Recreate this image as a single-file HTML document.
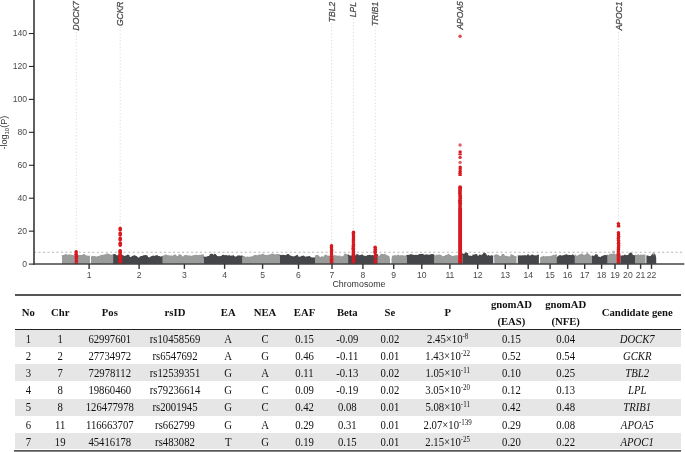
<!DOCTYPE html><html><head><meta charset="utf-8"><style>
html,body{margin:0;padding:0;background:#fff;}
body{width:685px;height:452px;position:relative;overflow:hidden;}
.t{position:absolute;font-family:"Liberation Serif",serif;font-size:10.7px;color:#111;white-space:nowrap;transform:translateX(-50%);line-height:1;}
.h{font-weight:bold;}
.b{transform:translateX(-50%) scaleY(1.1);transform-origin:50% 85%;}
.i{font-style:italic;}
.r{position:absolute;left:15px;width:666px;background:#e6e6e6;}
.ln{position:absolute;left:15px;width:666px;}
sup{font-size:7px;vertical-align:0;position:relative;top:-4px;line-height:0;}
</style></head><body>
<div style="position:absolute;left:0;top:0;width:685px;height:452px;will-change:transform">
<svg width="685" height="292" viewBox="0 0 685 292" style="position:absolute;left:0;top:0">
<g fill="#9a9c9c"><polygon points="62.00,264.10 62.00,257.34 62.51,255.13 63.02,255.42 63.52,255.20 64.03,255.17 64.54,254.61 65.05,254.29 65.56,254.20 66.07,254.34 66.57,254.72 67.08,255.13 67.59,255.09 68.10,255.17 68.61,254.81 69.11,254.62 69.62,254.52 70.13,254.66 70.64,254.56 71.15,254.61 71.66,254.86 72.16,254.89 72.67,254.92 73.18,255.27 73.69,255.33 74.20,255.14 74.70,255.22 75.21,255.13 75.72,255.23 76.23,255.10 76.74,254.81 77.25,255.08 77.75,254.58 78.26,254.78 78.77,255.11 79.28,254.99 79.79,255.27 80.29,255.07 80.80,255.34 81.31,255.29 81.82,255.05 82.33,255.05 82.84,254.61 83.34,254.66 83.85,254.52 84.36,254.47 84.87,254.47 85.38,254.90 85.88,255.28 86.39,255.37 86.90,255.69 87.41,255.45 87.92,255.75 88.43,255.70 88.93,255.84 89.44,255.73 89.95,255.44 89.95,264.10"/><circle cx="62.6" cy="256.0" r="0.90"/><circle cx="63.8" cy="256.0" r="0.90"/><circle cx="65.7" cy="255.0" r="0.90"/><circle cx="67.0" cy="255.5" r="0.90"/><circle cx="68.6" cy="255.4" r="0.90"/><circle cx="74.7" cy="255.9" r="0.90"/><circle cx="79.1" cy="255.7" r="0.90"/><circle cx="80.8" cy="255.9" r="0.90"/><circle cx="82.0" cy="255.7" r="0.90"/><circle cx="83.9" cy="254.8" r="0.90"/></g>
<g fill="#9a9c9c"><polygon points="91.00,264.10 91.00,257.32 91.50,255.87 92.00,255.71 92.51,256.32 93.01,256.36 93.51,256.22 94.01,256.29 94.52,256.35 95.02,256.37 95.52,256.25 96.02,256.62 96.53,256.70 97.03,256.45 97.53,256.47 98.03,256.27 98.53,256.19 99.04,256.14 99.54,255.90 100.04,255.95 100.54,255.37 101.05,255.10 101.55,255.45 102.05,255.18 102.55,254.87 103.05,254.89 103.56,254.42 104.06,254.47 104.56,254.55 105.06,254.41 105.57,254.29 106.07,254.03 106.57,254.08 107.07,253.97 107.57,254.27 108.08,254.15 108.58,254.28 109.08,254.07 109.58,254.10 110.09,254.51 110.59,254.72 111.09,254.75 111.59,254.76 112.10,254.82 112.60,254.87 113.10,254.72 113.10,264.10"/><circle cx="92.7" cy="257.2" r="0.90"/><circle cx="94.4" cy="256.8" r="0.90"/><circle cx="97.8" cy="256.8" r="0.90"/><circle cx="100.4" cy="256.1" r="0.90"/><circle cx="101.9" cy="255.7" r="0.90"/><circle cx="106.7" cy="254.5" r="0.90"/><circle cx="108.2" cy="254.5" r="0.90"/><circle cx="112.4" cy="255.3" r="0.90"/></g>
<g fill="#444649"><polygon points="113.10,264.10 113.10,254.03 113.60,254.19 114.10,254.11 114.61,254.36 115.11,254.43 115.61,255.04 116.11,254.94 116.61,255.09 117.12,255.19 117.62,255.41 118.12,255.07 118.62,255.11 119.12,254.66 119.63,254.48 120.13,254.39 120.63,254.20 121.13,254.57 121.63,254.64 122.14,254.77 122.64,255.37 123.14,255.26 123.64,255.59 124.14,255.87 124.65,255.89 125.15,255.80 125.65,255.73 126.15,255.41 126.65,255.16 127.16,254.54 127.66,254.67 128.16,254.69 128.66,255.14 129.16,255.99 129.67,256.45 130.17,256.88 130.67,257.11 131.17,257.13 131.67,256.71 132.18,256.52 132.68,256.15 133.18,255.84 133.68,255.69 134.18,255.43 134.69,255.46 135.19,255.56 135.69,256.01 136.19,256.21 136.69,256.69 137.20,257.11 137.70,257.10 138.20,257.49 138.70,257.77 139.21,257.66 139.71,257.12 140.21,256.83 140.71,256.64 141.21,256.12 141.72,255.91 142.22,255.65 142.72,255.89 143.22,255.89 143.72,255.85 144.23,255.35 144.73,255.50 145.23,255.35 145.73,255.00 146.23,255.33 146.74,255.59 147.24,255.75 147.74,256.78 148.24,257.02 148.74,257.25 149.25,257.44 149.75,257.21 150.25,256.65 150.75,256.55 151.25,256.35 151.76,256.08 152.26,255.90 152.76,255.93 153.26,256.11 153.76,255.73 154.27,255.95 154.77,255.84 155.27,255.58 155.77,255.69 156.27,255.80 156.78,255.73 157.28,255.52 157.78,256.05 158.28,256.09 158.78,256.35 159.29,256.09 159.79,256.34 160.29,256.36 160.79,256.80 161.29,256.55 161.80,256.30 162.30,256.11 162.80,255.95 162.80,264.10"/><circle cx="114.9" cy="254.8" r="0.90"/><circle cx="119.4" cy="255.0" r="0.90"/><circle cx="120.9" cy="254.9" r="0.90"/><circle cx="125.9" cy="256.6" r="0.90"/><circle cx="128.6" cy="255.7" r="0.90"/><circle cx="131.5" cy="257.3" r="0.90"/><circle cx="132.9" cy="256.6" r="0.90"/><circle cx="134.5" cy="256.2" r="0.90"/><circle cx="136.3" cy="256.9" r="0.90"/><circle cx="139.1" cy="258.5" r="0.90"/><circle cx="140.4" cy="257.1" r="0.90"/><circle cx="143.7" cy="256.2" r="0.90"/><circle cx="145.4" cy="256.0" r="0.90"/><circle cx="146.9" cy="256.3" r="0.90"/><circle cx="153.0" cy="256.4" r="0.90"/><circle cx="155.7" cy="256.6" r="0.90"/><circle cx="157.0" cy="256.0" r="0.90"/><circle cx="158.6" cy="257.2" r="0.90"/></g>
<g fill="#9a9c9c"><polygon points="162.80,264.10 162.80,255.46 163.30,255.53 163.80,255.33 164.30,255.13 164.80,254.98 165.31,254.57 165.81,254.49 166.31,254.89 166.81,254.61 167.31,255.07 167.81,255.21 168.31,255.07 168.81,255.56 169.32,255.63 169.82,255.54 170.32,255.60 170.82,255.63 171.32,255.29 171.82,255.48 172.32,255.58 172.82,256.01 173.33,255.76 173.83,255.12 174.33,254.70 174.83,254.51 175.33,254.55 175.83,254.81 176.33,255.30 176.83,256.01 177.34,255.99 177.84,255.94 178.34,255.67 178.84,255.11 179.34,254.70 179.84,254.51 180.34,254.55 180.84,254.82 181.35,255.31 181.85,256.03 182.35,257.02 182.85,256.85 183.35,256.42 183.85,256.05 184.35,255.74 184.85,255.18 185.35,255.42 185.86,255.19 186.36,255.12 186.86,255.24 187.36,255.49 187.86,255.23 188.36,255.52 188.86,255.69 189.36,255.51 189.87,255.53 190.37,255.64 190.87,255.77 191.37,255.82 191.87,255.74 192.37,255.75 192.87,255.46 193.37,255.49 193.88,255.53 194.38,255.76 194.88,255.37 195.38,254.97 195.88,254.81 196.38,254.80 196.88,254.88 197.38,255.12 197.89,255.21 198.39,255.30 198.89,255.18 199.39,255.31 199.89,255.19 200.39,254.95 200.89,254.47 201.39,254.61 201.90,254.14 202.40,254.54 202.90,254.60 203.40,254.26 203.90,254.61 203.90,264.10"/><circle cx="166.2" cy="255.7" r="0.90"/><circle cx="169.4" cy="256.4" r="0.90"/><circle cx="174.0" cy="255.7" r="0.90"/><circle cx="178.6" cy="256.3" r="0.90"/><circle cx="179.5" cy="255.1" r="0.90"/><circle cx="181.2" cy="256.1" r="0.90"/><circle cx="182.7" cy="257.2" r="0.90"/><circle cx="184.5" cy="256.1" r="0.90"/><circle cx="186.1" cy="255.7" r="0.90"/><circle cx="188.8" cy="256.4" r="0.90"/><circle cx="193.3" cy="256.2" r="0.90"/><circle cx="194.6" cy="255.8" r="0.90"/><circle cx="196.6" cy="255.6" r="0.90"/><circle cx="197.9" cy="256.0" r="0.90"/><circle cx="199.7" cy="255.7" r="0.90"/></g>
<g fill="#444649"><polygon points="203.90,264.10 203.90,256.91 204.40,256.90 204.91,257.17 205.41,256.83 205.91,256.54 206.41,256.71 206.92,256.61 207.42,256.22 207.92,255.99 208.42,256.00 208.93,255.88 209.43,255.84 209.93,255.01 210.43,254.32 210.94,253.86 211.44,253.63 211.94,253.63 212.44,253.85 212.95,254.30 213.45,254.98 213.95,254.49 214.45,254.13 214.96,254.00 215.46,254.10 215.96,254.42 216.46,254.97 216.97,255.74 217.47,256.10 217.97,256.26 218.48,256.47 218.98,256.24 219.48,256.34 219.98,256.37 220.49,256.42 220.99,256.24 221.49,256.02 221.99,255.46 222.50,255.11 223.00,254.76 223.50,254.75 224.00,255.10 224.51,255.22 225.01,255.05 225.51,255.15 226.01,254.89 226.52,255.12 227.02,255.41 227.52,255.38 228.02,255.42 228.53,255.55 229.03,255.30 229.53,255.37 230.04,255.51 230.54,255.78 231.04,255.90 231.54,256.09 232.05,255.91 232.55,255.59 233.05,255.50 233.55,255.64 234.06,256.00 234.56,256.59 235.06,256.88 235.56,256.45 236.07,256.60 236.57,256.24 237.07,255.87 237.57,255.61 238.08,255.56 238.58,255.71 239.08,255.75 239.58,255.48 240.09,255.48 240.59,255.73 241.09,255.78 241.59,255.71 242.10,255.64 242.60,255.83 242.60,264.10"/><circle cx="204.3" cy="257.5" r="0.90"/><circle cx="210.3" cy="255.1" r="0.90"/><circle cx="214.7" cy="254.6" r="0.90"/><circle cx="217.8" cy="256.8" r="0.90"/><circle cx="220.7" cy="256.9" r="0.90"/><circle cx="222.6" cy="255.9" r="0.90"/><circle cx="228.8" cy="256.3" r="0.90"/><circle cx="231.4" cy="256.5" r="0.90"/><circle cx="233.3" cy="256.1" r="0.90"/><circle cx="234.4" cy="257.2" r="0.90"/><circle cx="239.0" cy="256.5" r="0.90"/><circle cx="241.8" cy="256.5" r="0.90"/></g>
<g fill="#9a9c9c"><polygon points="242.60,264.10 242.60,256.08 243.11,256.10 243.61,255.99 244.12,255.95 244.62,256.35 245.13,256.49 245.63,256.94 246.14,256.70 246.64,256.83 247.15,257.07 247.65,256.63 248.16,256.82 248.66,257.04 249.17,257.04 249.68,256.69 250.18,256.69 250.69,256.69 251.19,257.06 251.70,256.56 252.20,256.55 252.71,256.30 253.21,255.67 253.72,255.30 254.22,255.36 254.73,254.99 255.24,254.74 255.74,255.08 256.25,255.20 256.75,255.60 257.26,255.87 257.76,255.19 258.27,254.74 258.77,254.52 259.28,254.53 259.78,254.78 260.29,254.92 260.79,254.61 261.30,254.51 261.81,254.31 262.31,254.00 262.82,254.01 263.32,254.23 263.83,254.43 264.33,254.83 264.84,254.62 265.34,255.05 265.85,255.06 266.35,255.09 266.86,255.05 267.36,254.94 267.87,254.77 268.38,254.74 268.88,254.74 269.39,254.93 269.89,254.46 270.40,254.31 270.90,254.35 271.41,253.90 271.91,253.72 272.42,253.74 272.92,254.15 273.43,254.25 273.94,254.81 274.44,254.94 274.95,254.80 275.45,254.44 275.96,254.30 276.46,254.40 276.97,254.59 277.47,254.59 277.98,254.36 278.48,254.17 278.99,254.20 279.49,254.28 280.00,254.32 280.00,264.10"/><circle cx="247.9" cy="257.3" r="0.90"/><circle cx="250.8" cy="257.5" r="0.90"/><circle cx="252.0" cy="257.4" r="0.90"/><circle cx="256.7" cy="255.9" r="0.90"/><circle cx="260.0" cy="255.3" r="0.90"/><circle cx="262.8" cy="254.4" r="0.90"/><circle cx="267.2" cy="255.8" r="0.90"/><circle cx="269.2" cy="255.3" r="0.90"/><circle cx="272.1" cy="254.4" r="0.90"/><circle cx="273.6" cy="254.6" r="0.90"/><circle cx="275.0" cy="255.3" r="0.90"/><circle cx="276.4" cy="255.2" r="0.90"/><circle cx="277.8" cy="254.9" r="0.90"/></g>
<g fill="#444649"><polygon points="280.00,264.10 280.00,255.28 280.50,255.01 281.00,255.02 281.50,255.41 282.00,255.25 282.50,255.20 283.00,255.45 283.50,255.11 284.00,255.00 284.50,255.11 285.00,255.45 285.50,255.22 286.00,255.06 286.50,255.00 287.00,254.45 287.50,254.11 288.00,254.00 288.50,254.11 289.00,254.45 289.50,255.01 290.00,255.46 290.50,255.39 291.00,255.62 291.50,255.93 292.00,256.32 292.50,256.08 293.00,256.39 293.50,256.61 294.00,256.65 294.50,256.04 295.00,255.69 295.50,255.81 296.00,255.66 296.50,255.43 297.00,255.37 297.50,256.06 298.00,256.08 298.50,256.62 299.00,256.68 299.50,256.87 300.00,256.51 300.50,256.69 301.00,256.21 301.50,256.07 302.00,256.06 302.50,255.88 303.00,255.46 303.50,255.49 304.00,255.80 304.50,256.25 305.00,256.62 305.50,256.85 306.00,257.10 306.50,257.32 307.00,257.27 307.50,256.63 308.00,256.65 308.50,256.53 309.00,256.03 309.50,256.40 310.00,256.18 310.50,256.75 311.00,257.16 311.50,257.63 312.00,257.79 312.50,257.99 313.00,258.03 313.50,257.80 314.00,257.69 314.50,257.35 315.00,257.15 315.00,264.10"/><circle cx="280.6" cy="255.6" r="0.90"/><circle cx="282.2" cy="255.7" r="0.90"/><circle cx="283.3" cy="255.7" r="0.90"/><circle cx="284.8" cy="256.1" r="0.90"/><circle cx="286.5" cy="255.6" r="0.90"/><circle cx="288.1" cy="254.9" r="0.90"/><circle cx="294.0" cy="257.3" r="0.90"/><circle cx="297.2" cy="255.7" r="0.90"/><circle cx="301.8" cy="256.7" r="0.90"/><circle cx="306.2" cy="257.4" r="0.90"/><circle cx="307.4" cy="257.1" r="0.90"/><circle cx="309.2" cy="256.8" r="0.90"/><circle cx="312.0" cy="258.1" r="0.90"/><circle cx="313.4" cy="258.4" r="0.90"/></g>
<g fill="#9a9c9c"><polygon points="315.00,264.10 315.00,255.37 315.50,255.22 316.00,255.34 316.50,255.06 317.01,254.84 317.51,255.07 318.01,254.83 318.51,255.59 319.01,255.82 319.51,256.53 320.02,257.05 320.52,256.93 321.02,256.96 321.52,256.76 322.02,256.58 322.52,256.57 323.02,256.61 323.53,256.82 324.03,256.55 324.53,255.77 325.03,255.22 325.53,254.90 326.03,254.80 326.53,254.93 327.04,255.28 327.54,255.86 328.04,256.17 328.54,255.86 329.04,255.81 329.54,255.63 330.05,255.78 330.55,255.74 331.05,255.48 331.55,255.60 332.05,255.43 332.55,255.17 333.05,255.51 333.56,255.14 334.06,255.10 334.56,255.12 335.06,255.46 335.56,255.66 336.06,255.70 336.57,255.59 337.07,255.58 337.57,255.49 338.07,255.81 338.57,255.84 339.07,255.87 339.57,256.18 340.08,256.26 340.58,256.65 341.08,256.65 341.58,256.43 342.08,256.78 342.58,256.41 343.08,256.74 343.59,255.15 344.09,254.40 344.59,253.87 345.09,253.58 345.59,253.50 346.09,253.66 346.60,254.04 347.10,254.65 347.60,255.12 348.10,255.28 348.10,264.10"/><circle cx="319.9" cy="257.8" r="0.90"/><circle cx="321.8" cy="257.2" r="0.90"/><circle cx="324.7" cy="256.2" r="0.90"/><circle cx="326.2" cy="255.4" r="0.90"/><circle cx="327.3" cy="256.6" r="0.90"/><circle cx="328.9" cy="256.3" r="0.90"/><circle cx="335.1" cy="256.1" r="0.90"/><circle cx="339.7" cy="256.5" r="0.90"/><circle cx="341.3" cy="257.5" r="0.90"/><circle cx="342.4" cy="256.9" r="0.90"/><circle cx="347.3" cy="255.4" r="0.90"/></g>
<g fill="#444649"><polygon points="348.10,264.10 348.10,254.94 348.60,254.91 349.11,255.04 349.61,255.59 350.11,255.47 350.62,255.54 351.12,255.64 351.62,255.77 352.13,256.16 352.63,256.13 353.13,256.16 353.64,256.19 354.14,255.86 354.64,256.13 355.15,255.84 355.65,255.12 356.15,254.62 356.66,254.35 357.16,254.31 357.66,254.50 358.17,254.91 358.67,255.56 359.17,255.48 359.68,255.45 360.18,255.34 360.68,255.18 361.19,254.70 361.69,254.44 362.19,254.42 362.70,254.62 363.20,255.05 363.71,255.71 364.21,255.80 364.71,255.83 365.22,256.15 365.72,255.81 366.22,255.77 366.73,255.70 367.23,255.37 367.73,255.36 368.24,255.26 368.74,255.41 369.24,255.06 369.75,254.83 370.25,254.83 370.75,255.05 371.26,255.51 371.76,255.55 372.26,255.30 372.77,255.52 373.27,255.52 373.77,255.58 374.28,255.17 374.78,255.11 375.28,254.80 375.79,254.49 376.29,254.76 376.79,254.34 377.30,254.65 377.80,254.25 377.80,264.10"/><circle cx="348.4" cy="255.4" r="0.90"/><circle cx="351.6" cy="256.4" r="0.90"/><circle cx="354.6" cy="256.8" r="0.90"/><circle cx="357.9" cy="255.2" r="0.90"/><circle cx="359.3" cy="256.1" r="0.90"/><circle cx="360.8" cy="256.0" r="0.90"/><circle cx="368.2" cy="255.9" r="0.90"/><circle cx="371.5" cy="256.4" r="0.90"/><circle cx="372.6" cy="255.9" r="0.90"/><circle cx="376.0" cy="255.2" r="0.90"/><circle cx="377.3" cy="255.1" r="0.90"/></g>
<g fill="#9a9c9c"><polygon points="377.80,264.10 377.80,256.09 378.31,255.95 378.82,255.59 379.32,255.57 379.83,255.56 380.34,255.02 380.85,254.60 381.36,254.19 381.87,254.01 382.38,254.06 382.88,254.35 383.39,254.41 383.90,254.34 384.41,254.31 384.92,254.40 385.43,254.29 385.93,254.53 386.44,254.68 386.95,255.32 387.46,255.44 387.97,255.32 388.48,255.88 388.98,255.73 389.49,256.51 390.00,259.23 390.00,264.10"/><circle cx="381.2" cy="254.7" r="0.90"/><circle cx="382.7" cy="255.0" r="0.90"/><circle cx="384.3" cy="254.7" r="0.90"/></g>
<g fill="#9a9c9c"><polygon points="391.50,264.10 391.50,258.87 392.01,256.26 392.53,255.60 393.04,255.54 393.55,255.55 394.07,255.58 394.58,255.50 395.09,255.47 395.61,255.70 396.12,255.51 396.63,255.44 397.15,254.93 397.66,254.65 398.17,254.61 398.69,254.81 399.20,255.25 399.71,255.44 400.23,255.37 400.74,255.13 401.25,255.17 401.77,255.25 402.28,254.90 402.79,255.22 403.31,255.44 403.82,255.42 404.33,255.64 404.85,256.02 405.36,255.62 405.87,255.84 406.39,255.48 406.90,255.52 406.90,264.10"/><circle cx="395.1" cy="256.0" r="0.90"/><circle cx="404.6" cy="256.4" r="0.90"/></g>
<g fill="#444649"><polygon points="406.90,264.10 406.90,255.08 407.40,255.34 407.91,255.05 408.41,254.83 408.91,254.65 409.42,254.83 409.92,254.72 410.43,254.55 410.93,254.43 411.43,254.49 411.94,254.36 412.44,254.81 412.94,254.59 413.45,254.83 413.95,255.01 414.45,255.08 414.96,254.95 415.46,254.87 415.97,254.96 416.47,254.69 416.97,254.97 417.48,254.67 417.98,254.89 418.48,254.55 418.99,254.50 419.49,254.28 419.99,254.19 420.50,253.93 421.00,253.75 421.51,254.09 422.01,253.96 422.51,254.13 423.02,254.39 423.52,254.71 424.02,254.86 424.53,255.04 425.03,255.04 425.53,254.87 426.04,255.11 426.54,255.03 427.05,254.59 427.55,254.93 428.05,254.94 428.56,254.87 429.06,254.51 429.56,254.79 430.07,254.59 430.57,254.19 431.07,254.12 431.58,254.56 432.08,254.38 432.59,254.08 433.09,254.00 433.59,254.16 434.10,254.54 434.60,255.15 434.60,264.10"/><circle cx="407.2" cy="255.7" r="0.90"/><circle cx="410.7" cy="255.1" r="0.90"/><circle cx="419.6" cy="254.9" r="0.90"/><circle cx="422.7" cy="254.7" r="0.90"/><circle cx="423.9" cy="255.7" r="0.90"/><circle cx="425.3" cy="255.5" r="0.90"/><circle cx="427.0" cy="255.2" r="0.90"/><circle cx="431.8" cy="255.2" r="0.90"/></g>
<g fill="#9a9c9c"><polygon points="434.60,264.10 434.60,255.54 435.10,255.48 435.61,255.27 436.11,255.43 436.61,255.06 437.12,254.99 437.62,254.91 438.13,254.95 438.63,254.65 439.13,254.81 439.64,254.86 440.14,254.81 440.64,254.99 441.15,255.39 441.65,256.03 442.15,256.37 442.66,256.35 443.16,256.05 443.67,255.93 444.17,255.97 444.67,255.73 445.18,255.76 445.68,255.37 446.18,255.11 446.69,254.79 447.19,254.63 447.69,254.41 448.20,254.34 448.70,253.96 449.21,254.44 449.71,254.78 450.21,254.96 450.72,255.09 451.22,255.55 451.72,255.64 452.23,255.83 452.73,256.18 453.23,255.96 453.74,255.87 454.24,255.80 454.75,255.71 455.25,255.42 455.75,255.32 456.26,255.27 456.76,255.30 457.26,255.29 457.77,255.39 458.27,255.24 458.77,255.56 459.28,255.56 459.78,255.80 460.29,255.54 460.79,255.62 461.29,255.58 461.80,256.05 462.30,256.31 462.30,264.10"/><circle cx="436.8" cy="255.5" r="0.90"/><circle cx="439.5" cy="255.5" r="0.90"/><circle cx="441.1" cy="255.9" r="0.90"/><circle cx="444.2" cy="256.8" r="0.90"/><circle cx="445.9" cy="255.9" r="0.90"/><circle cx="448.4" cy="254.6" r="0.90"/><circle cx="454.7" cy="256.5" r="0.90"/><circle cx="457.6" cy="256.3" r="0.90"/><circle cx="459.4" cy="256.4" r="0.90"/></g>
<g fill="#444649"><polygon points="462.30,264.10 462.30,254.04 462.81,253.70 463.31,253.72 463.82,254.07 464.33,253.76 464.83,253.11 465.34,252.70 465.85,252.51 466.35,252.56 466.86,252.83 467.37,253.34 467.87,254.08 468.38,255.39 468.89,255.76 469.39,255.72 469.90,255.86 470.40,255.62 470.91,255.97 471.42,255.77 471.92,255.93 472.43,255.86 472.94,255.46 473.44,255.00 473.95,254.74 474.46,254.48 474.96,254.30 475.47,254.28 475.98,254.35 476.48,254.53 476.99,255.33 477.50,255.54 478.00,255.89 478.51,255.50 479.02,254.94 479.52,254.60 480.03,254.50 480.54,254.63 481.04,254.99 481.55,255.58 482.06,256.30 482.56,254.67 483.07,253.85 483.58,253.27 484.08,252.92 484.59,252.80 485.10,252.91 485.60,253.25 486.11,253.82 486.61,254.63 487.12,255.92 487.63,255.97 488.13,255.93 488.64,255.44 489.15,255.79 489.65,255.76 490.16,255.79 490.67,255.62 491.17,255.41 491.68,255.62 492.19,255.52 492.69,255.38 493.20,255.43 493.20,264.10"/><circle cx="462.6" cy="254.3" r="0.90"/><circle cx="466.0" cy="252.9" r="0.90"/><circle cx="467.4" cy="253.8" r="0.90"/><circle cx="468.7" cy="256.5" r="0.90"/><circle cx="473.2" cy="255.4" r="0.90"/><circle cx="476.5" cy="254.9" r="0.90"/><circle cx="481.1" cy="255.8" r="0.90"/><circle cx="482.4" cy="255.1" r="0.90"/><circle cx="484.1" cy="253.6" r="0.90"/><circle cx="486.8" cy="256.2" r="0.90"/><circle cx="488.4" cy="256.0" r="0.90"/><circle cx="491.7" cy="256.3" r="0.90"/></g>
<g fill="#9a9c9c"><polygon points="494.20,264.10 494.20,255.50 494.71,255.37 495.21,255.00 495.72,254.58 496.23,254.51 496.73,254.54 497.24,254.39 497.75,254.82 498.25,255.09 498.76,255.02 499.27,255.67 499.77,255.92 500.28,256.05 500.79,256.64 501.30,255.31 501.80,254.65 502.31,254.21 502.82,254.02 503.32,254.05 503.83,254.31 504.34,254.80 504.84,255.46 505.35,255.92 505.86,256.04 506.36,255.79 506.87,255.82 507.38,256.01 507.88,256.07 508.39,256.38 508.90,256.45 509.40,256.51 509.91,256.21 510.42,255.73 510.93,255.12 511.43,254.75 511.94,254.60 512.45,254.69 512.95,255.01 513.46,255.56 513.97,256.34 514.47,256.26 514.98,256.05 515.49,256.16 515.99,256.12 516.50,255.60 516.50,264.10"/><circle cx="494.6" cy="256.2" r="0.90"/><circle cx="496.0" cy="255.3" r="0.90"/><circle cx="497.9" cy="255.7" r="0.90"/><circle cx="500.5" cy="257.0" r="0.90"/><circle cx="502.6" cy="254.6" r="0.90"/><circle cx="505.3" cy="256.8" r="0.90"/><circle cx="511.3" cy="255.2" r="0.90"/><circle cx="513.0" cy="255.8" r="0.90"/><circle cx="514.2" cy="256.7" r="0.90"/></g>
<g fill="#444649"><polygon points="517.80,264.10 517.80,255.05 518.30,255.48 518.80,255.39 519.31,255.21 519.81,255.39 520.31,255.35 520.81,255.38 521.32,255.39 521.82,255.49 522.32,255.79 522.82,255.76 523.33,255.66 523.83,255.17 524.33,255.20 524.83,255.45 525.34,255.01 525.84,255.45 526.34,255.53 526.84,255.40 527.35,254.99 527.85,254.81 528.35,254.86 528.85,255.13 529.35,255.63 529.86,256.35 530.36,255.79 530.86,255.27 531.36,254.98 531.87,254.81 532.37,254.86 532.87,255.14 533.37,255.21 533.88,255.31 534.38,255.67 534.88,255.67 535.38,255.40 535.89,255.30 536.39,255.23 536.89,255.40 537.39,255.24 537.90,255.03 538.40,254.92 538.90,255.07 538.90,264.10"/><circle cx="522.6" cy="256.2" r="0.90"/><circle cx="524.5" cy="256.1" r="0.90"/><circle cx="527.6" cy="255.4" r="0.90"/><circle cx="528.6" cy="255.5" r="0.90"/><circle cx="530.6" cy="256.5" r="0.90"/><circle cx="532.1" cy="255.5" r="0.90"/><circle cx="533.3" cy="255.8" r="0.90"/><circle cx="534.9" cy="256.3" r="0.90"/><circle cx="538.0" cy="255.4" r="0.90"/></g>
<g fill="#9a9c9c"><polygon points="540.10,264.10 540.10,256.71 540.61,257.14 541.12,256.68 541.64,256.54 542.15,256.38 542.66,256.36 543.18,256.59 543.69,256.18 544.20,256.20 544.71,256.51 545.23,256.26 545.74,256.17 546.25,256.45 546.76,256.43 547.27,256.44 547.79,256.60 548.30,256.37 548.81,256.79 549.33,256.70 549.84,256.29 550.35,256.15 550.86,256.10 551.38,255.85 551.89,255.48 552.40,255.17 552.91,255.13 553.42,254.87 553.94,255.02 554.45,255.09 554.96,254.67 555.48,254.82 555.99,254.85 556.50,254.51 556.50,264.10"/><circle cx="543.6" cy="256.6" r="0.90"/><circle cx="547.0" cy="256.9" r="0.90"/><circle cx="548.1" cy="257.1" r="0.90"/><circle cx="550.1" cy="256.7" r="0.90"/><circle cx="556.0" cy="255.2" r="0.90"/></g>
<g fill="#444649"><polygon points="556.50,264.10 556.50,256.80 557.01,256.80 557.52,256.58 558.03,256.25 558.54,255.49 559.06,255.57 559.57,255.31 560.08,255.52 560.59,255.30 561.10,255.41 561.61,255.58 562.12,255.40 562.63,255.20 563.14,255.33 563.66,255.27 564.17,255.44 564.68,254.97 565.19,254.81 565.70,254.83 566.21,254.45 566.72,254.64 567.23,254.87 567.74,254.81 568.26,254.93 568.77,255.30 569.28,255.23 569.79,255.02 570.30,255.04 570.81,255.30 571.32,255.28 571.83,255.05 572.34,254.78 572.86,254.72 573.37,254.72 573.88,255.13 574.39,255.53 574.90,255.71 574.90,264.10"/><circle cx="560.2" cy="256.1" r="0.90"/><circle cx="564.6" cy="255.7" r="0.90"/><circle cx="566.2" cy="255.1" r="0.90"/><circle cx="569.2" cy="255.6" r="0.90"/><circle cx="570.8" cy="255.9" r="0.90"/><circle cx="572.6" cy="255.5" r="0.90"/></g>
<g fill="#9a9c9c"><polygon points="574.90,264.10 574.90,254.24 575.40,254.55 575.91,254.94 576.41,255.59 576.91,256.04 577.41,256.11 577.92,256.15 578.42,255.32 578.92,254.72 579.43,254.35 579.93,254.20 580.43,254.14 580.94,254.13 581.44,253.78 581.94,254.30 582.44,254.08 582.95,254.68 583.45,254.77 583.95,254.82 584.46,255.04 584.96,254.77 585.46,254.56 585.96,253.98 586.47,253.63 586.97,253.50 587.47,253.60 587.98,253.86 588.48,253.91 588.98,254.36 589.49,254.67 589.99,255.29 590.49,255.82 590.99,255.95 591.50,255.87 592.00,255.89 592.00,264.10"/><circle cx="576.9" cy="256.8" r="0.90"/><circle cx="578.2" cy="255.9" r="0.90"/><circle cx="581.7" cy="254.5" r="0.90"/><circle cx="587.4" cy="254.0" r="0.90"/><circle cx="588.7" cy="254.9" r="0.90"/><circle cx="590.7" cy="256.3" r="0.90"/></g>
<g fill="#444649"><polygon points="592.00,264.10 592.00,255.40 592.51,255.59 593.01,255.66 593.52,255.80 594.03,255.86 594.53,255.47 595.04,254.92 595.55,254.59 596.05,254.50 596.56,254.64 597.06,255.01 597.57,255.61 598.08,256.44 598.58,256.80 599.09,256.63 599.60,256.82 600.10,257.20 600.61,256.98 601.12,256.60 601.62,256.12 602.13,256.24 602.64,255.89 603.14,255.80 603.65,255.80 604.15,255.67 604.66,255.35 605.17,255.13 605.67,255.12 606.18,255.14 606.69,255.06 607.19,254.83 607.70,254.81 607.70,264.10"/><circle cx="595.8" cy="255.1" r="0.90"/><circle cx="597.0" cy="255.4" r="0.90"/><circle cx="598.7" cy="257.7" r="0.90"/><circle cx="600.3" cy="257.8" r="0.90"/><circle cx="603.1" cy="256.4" r="0.90"/><circle cx="604.7" cy="255.9" r="0.90"/></g>
<g fill="#9a9c9c"><polygon points="607.70,264.10 607.70,254.97 608.21,254.88 608.72,255.06 609.22,254.57 609.73,254.48 610.24,254.06 610.75,253.82 611.26,253.87 611.76,254.02 612.27,254.28 612.78,253.83 613.29,253.62 613.80,253.64 614.30,253.89 614.81,254.37 615.32,254.77 615.83,254.15 616.34,254.08 616.84,253.81 617.35,254.07 617.86,254.16 618.37,254.35 618.88,255.01 619.38,255.05 619.89,254.78 620.40,255.09 620.40,264.10"/><circle cx="609.8" cy="254.8" r="0.90"/><circle cx="611.5" cy="254.6" r="0.90"/><circle cx="612.9" cy="254.6" r="0.90"/><circle cx="614.5" cy="254.5" r="0.90"/><circle cx="617.2" cy="254.8" r="0.90"/><circle cx="619.2" cy="255.7" r="0.90"/></g>
<g fill="#444649"><polygon points="620.40,264.10 620.40,255.53 620.90,255.43 621.41,255.74 621.91,255.57 622.41,255.47 622.92,255.74 623.42,255.44 623.92,255.12 624.43,254.75 624.93,254.60 625.43,254.68 625.94,255.00 626.44,255.52 626.94,255.14 627.45,255.07 627.95,255.05 628.46,254.38 628.96,253.57 629.46,252.98 629.97,252.63 630.47,252.50 630.97,252.60 631.48,252.93 631.98,253.48 632.48,254.27 632.99,255.25 633.49,255.57 633.99,255.37 634.50,255.17 635.00,255.01 635.00,264.10"/><circle cx="622.6" cy="256.3" r="0.90"/><circle cx="627.1" cy="255.8" r="0.90"/><circle cx="631.4" cy="253.8" r="0.90"/><circle cx="633.2" cy="256.0" r="0.90"/></g>
<g fill="#9a9c9c"><polygon points="635.00,264.10 635.00,254.47 635.50,254.55 636.00,254.87 636.50,254.91 637.00,254.95 637.50,254.61 638.00,254.50 638.50,254.61 639.00,254.85 639.50,255.13 640.00,255.08 640.50,254.86 641.00,254.84 641.50,254.92 642.00,254.90 642.50,254.66 643.00,254.95 643.50,254.69 644.00,254.82 644.50,254.58 645.00,254.52 645.50,254.84 645.50,264.10"/><circle cx="638.2" cy="255.4" r="0.90"/><circle cx="639.9" cy="255.7" r="0.90"/><circle cx="641.4" cy="255.4" r="0.90"/><circle cx="643.2" cy="255.5" r="0.90"/></g>
<g fill="#444649"><polygon points="646.40,264.10 646.40,255.13 646.92,255.57 647.43,255.58 647.95,255.50 648.46,255.82 648.98,255.93 649.49,256.36 650.01,256.02 650.53,256.12 651.04,255.62 651.56,254.80 652.07,254.66 652.59,254.20 653.11,254.28 653.62,254.39 654.14,254.32 654.65,254.53 655.17,255.30 655.68,255.48 656.20,257.65 656.20,264.10"/><circle cx="652.8" cy="254.8" r="0.90"/><circle cx="654.7" cy="254.9" r="0.90"/></g>
<circle cx="613.5" cy="251.9" r="1.5" fill="#9a9c9c" fill-opacity="0.75"/>
<circle cx="653.6" cy="254.0" r="1.4" fill="#8c8c8c" fill-opacity="0.75"/>
<line x1="33.99" y1="252.25" x2="682.3" y2="252.25" stroke="#b4b4b4" stroke-width="1" stroke-dasharray="2 2.487"/>
<line x1="76.3" y1="32.3" x2="76.3" y2="250.1" stroke="#cfcfcf" stroke-width="0.9" stroke-dasharray="1 2.32"/>
<text transform="translate(79.3,1.2) rotate(-90)" x="0" y="0" text-anchor="end" font-family="Liberation Sans" font-style="italic" font-size="8.5" fill="#4a4a4a" stroke="#4a4a4a" stroke-width="0.25">DOCK7</text>
<line x1="120.2" y1="27.0" x2="120.2" y2="226.5" stroke="#cfcfcf" stroke-width="0.9" stroke-dasharray="1 2.32"/>
<text transform="translate(123.2,1.5) rotate(-90)" x="0" y="0" text-anchor="end" font-family="Liberation Sans" font-style="italic" font-size="8.5" fill="#4a4a4a" stroke="#4a4a4a" stroke-width="0.25">GCKR</text>
<line x1="331.6" y1="23.4" x2="331.6" y2="244.0" stroke="#cfcfcf" stroke-width="0.9" stroke-dasharray="1 2.32"/>
<text transform="translate(334.6,1.8) rotate(-90)" x="0" y="0" text-anchor="end" font-family="Liberation Sans" font-style="italic" font-size="8.5" fill="#4a4a4a" stroke="#4a4a4a" stroke-width="0.25">TBL2</text>
<line x1="353.4" y1="18.8" x2="353.4" y2="230.5" stroke="#cfcfcf" stroke-width="0.9" stroke-dasharray="1 2.32"/>
<text transform="translate(356.4,2.1) rotate(-90)" x="0" y="0" text-anchor="end" font-family="Liberation Sans" font-style="italic" font-size="8.5" fill="#4a4a4a" stroke="#4a4a4a" stroke-width="0.25">LPL</text>
<line x1="375.3" y1="26.4" x2="375.3" y2="245.5" stroke="#cfcfcf" stroke-width="0.9" stroke-dasharray="1 2.32"/>
<text transform="translate(378.3,1.8) rotate(-90)" x="0" y="0" text-anchor="end" font-family="Liberation Sans" font-style="italic" font-size="8.5" fill="#4a4a4a" stroke="#4a4a4a" stroke-width="0.25">TRIB1</text>
<text transform="translate(463.1,1.2) rotate(-90)" x="0" y="0" text-anchor="end" font-family="Liberation Sans" font-style="italic" font-size="8.5" fill="#4a4a4a" stroke="#4a4a4a" stroke-width="0.25">APOA5</text>
<line x1="618.5" y1="31.9" x2="618.5" y2="221.9" stroke="#cfcfcf" stroke-width="0.9" stroke-dasharray="1 2.32"/>
<text transform="translate(621.5,1.5) rotate(-90)" x="0" y="0" text-anchor="end" font-family="Liberation Sans" font-style="italic" font-size="8.5" fill="#4a4a4a" stroke="#4a4a4a" stroke-width="0.25">APOC1</text>
<g fill="#d7191f"><rect x="74.50" y="262.30" width="3.60" height="1.80" fill="#d7191f"/><circle cx="76.19" cy="251.90" r="1.80"/><circle cx="76.16" cy="254.26" r="1.80"/><circle cx="76.39" cy="256.56" r="1.80"/><circle cx="76.31" cy="258.43" r="1.80"/><circle cx="76.34" cy="261.00" r="1.80"/></g>
<g fill="#d7191f"><rect x="118.30" y="253.80" width="3.80" height="10.30" fill="#d7191f"/><circle cx="120.12" cy="250.80" r="1.90"/><circle cx="120.16" cy="252.46" r="1.90"/></g>
<ellipse cx="120.2" cy="229.05" rx="1.9" ry="2.55" fill="#d7191f"/>
<ellipse cx="120.2" cy="233.90" rx="1.9" ry="2.70" fill="#d7191f"/>
<ellipse cx="120.2" cy="238.90" rx="1.9" ry="2.70" fill="#d7191f"/>
<ellipse cx="120.2" cy="244.05" rx="1.9" ry="2.85" fill="#d7191f"/>
<g fill="#d7191f"><rect x="329.80" y="257.80" width="3.60" height="6.30" fill="#d7191f"/><circle cx="331.51" cy="245.80" r="1.80"/><circle cx="331.49" cy="247.71" r="1.80"/><circle cx="331.65" cy="250.02" r="1.80"/><circle cx="331.52" cy="251.86" r="1.80"/><circle cx="331.58" cy="253.97" r="1.80"/><circle cx="331.56" cy="256.51" r="1.80"/></g>
<g fill="#d7191f"><rect x="351.60" y="252.30" width="3.60" height="11.80" fill="#d7191f"/><circle cx="353.52" cy="232.30" r="1.80"/><circle cx="353.42" cy="234.04" r="1.80"/><circle cx="353.49" cy="235.98" r="1.80"/><circle cx="353.48" cy="238.12" r="1.80"/><circle cx="353.45" cy="239.89" r="1.80"/><circle cx="353.39" cy="242.09" r="1.80"/><circle cx="353.50" cy="244.46" r="1.80"/><circle cx="353.34" cy="246.17" r="1.80"/><circle cx="353.31" cy="248.13" r="1.80"/><circle cx="353.33" cy="249.79" r="1.80"/><circle cx="353.46" cy="251.59" r="1.80"/></g>
<g fill="#d7191f"><rect x="373.50" y="259.30" width="3.60" height="4.80" fill="#d7191f"/><circle cx="375.18" cy="247.30" r="1.80"/><circle cx="375.29" cy="249.22" r="1.80"/><circle cx="375.20" cy="251.19" r="1.80"/><circle cx="375.15" cy="252.86" r="1.80"/><circle cx="375.38" cy="255.45" r="1.80"/><circle cx="375.37" cy="257.14" r="1.80"/></g>
<g fill="#d7191f"><rect x="458.15" y="207.25" width="3.90" height="56.85" fill="#d7191f"/><circle cx="460.12" cy="187.25" r="1.95"/><circle cx="460.10" cy="188.96" r="1.95"/><circle cx="460.01" cy="190.99" r="1.95"/><circle cx="459.95" cy="193.14" r="1.95"/><circle cx="460.14" cy="195.66" r="1.95"/><circle cx="460.23" cy="197.88" r="1.95"/><circle cx="460.03" cy="200.14" r="1.95"/><circle cx="459.99" cy="201.98" r="1.95"/><circle cx="460.18" cy="203.61" r="1.95"/><circle cx="460.04" cy="206.05" r="1.95"/></g>
<g fill="#d7191f"><rect x="458.40" y="153.60" width="3.40" height="1.70" fill="#d7191f"/><circle cx="460.14" cy="152.00" r="1.70"/></g>
<g fill="#d7191f"><rect x="458.40" y="174.30" width="3.40" height="1.70" fill="#d7191f"/><circle cx="460.23" cy="167.10" r="1.70"/><circle cx="460.19" cy="168.87" r="1.70"/><circle cx="460.17" cy="171.30" r="1.70"/><circle cx="460.01" cy="173.23" r="1.70"/></g>
<circle cx="460.1" cy="145.0" r="1.7" fill="#d7191f" fill-opacity="0.70"/>
<circle cx="460.1" cy="157.4" r="1.7" fill="#d7191f" fill-opacity="0.90"/>
<circle cx="460.1" cy="162.4" r="1.7" fill="#d7191f" fill-opacity="0.70"/>
<circle cx="460.1" cy="36.2" r="1.7" fill="#d7191f" fill-opacity="0.80"/>
<g fill="#d7191f"><rect x="616.70" y="252.80" width="3.60" height="11.30" fill="#d7191f"/><circle cx="618.45" cy="232.80" r="1.80"/><circle cx="618.52" cy="234.77" r="1.80"/><circle cx="618.60" cy="236.74" r="1.80"/><circle cx="618.36" cy="238.58" r="1.80"/><circle cx="618.54" cy="240.74" r="1.80"/><circle cx="618.56" cy="243.16" r="1.80"/><circle cx="618.63" cy="245.67" r="1.80"/><circle cx="618.50" cy="247.76" r="1.80"/><circle cx="618.44" cy="249.52" r="1.80"/><circle cx="618.37" cy="251.70" r="1.80"/></g>
<g fill="#d7191f"><rect x="616.80" y="225.70" width="3.40" height="1.70" fill="#d7191f"/><circle cx="618.40" cy="223.60" r="1.70"/><circle cx="618.64" cy="225.64" r="1.70"/></g>
<line x1="34" y1="0" x2="34" y2="264.8" stroke="#444444" stroke-width="1.7"/>
<line x1="33.2" y1="264.0" x2="684.3" y2="264.0" stroke="#444444" stroke-width="1.6"/>
<line x1="28.9" y1="264.10" x2="34" y2="264.10" stroke="#262626" stroke-width="1.1"/>
<text x="27" y="266.80" text-anchor="end" font-family="Liberation Sans" font-size="8.6" fill="#4a4a4a">0</text>
<line x1="28.9" y1="231.16" x2="34" y2="231.16" stroke="#262626" stroke-width="1.1"/>
<text x="27" y="233.86" text-anchor="end" font-family="Liberation Sans" font-size="8.6" fill="#4a4a4a">20</text>
<line x1="28.9" y1="198.22" x2="34" y2="198.22" stroke="#262626" stroke-width="1.1"/>
<text x="27" y="200.92" text-anchor="end" font-family="Liberation Sans" font-size="8.6" fill="#4a4a4a">40</text>
<line x1="28.9" y1="165.28" x2="34" y2="165.28" stroke="#262626" stroke-width="1.1"/>
<text x="27" y="167.98" text-anchor="end" font-family="Liberation Sans" font-size="8.6" fill="#4a4a4a">60</text>
<line x1="28.9" y1="132.34" x2="34" y2="132.34" stroke="#262626" stroke-width="1.1"/>
<text x="27" y="135.04" text-anchor="end" font-family="Liberation Sans" font-size="8.6" fill="#4a4a4a">80</text>
<line x1="28.9" y1="99.40" x2="34" y2="99.40" stroke="#262626" stroke-width="1.1"/>
<text x="27" y="102.10" text-anchor="end" font-family="Liberation Sans" font-size="8.6" fill="#4a4a4a">100</text>
<line x1="28.9" y1="66.46" x2="34" y2="66.46" stroke="#262626" stroke-width="1.1"/>
<text x="27" y="69.16" text-anchor="end" font-family="Liberation Sans" font-size="8.6" fill="#4a4a4a">120</text>
<line x1="28.9" y1="33.52" x2="34" y2="33.52" stroke="#262626" stroke-width="1.1"/>
<text x="27" y="36.22" text-anchor="end" font-family="Liberation Sans" font-size="8.6" fill="#4a4a4a">140</text>
<line x1="89.10" y1="264" x2="89.10" y2="268.9" stroke="#333" stroke-width="1.4"/>
<text x="89.10" y="277.85" text-anchor="middle" font-family="Liberation Sans" font-size="8.6" fill="#4a4a4a">1</text>
<line x1="139.10" y1="264" x2="139.10" y2="268.9" stroke="#333" stroke-width="1.4"/>
<text x="139.10" y="277.85" text-anchor="middle" font-family="Liberation Sans" font-size="8.6" fill="#4a4a4a">2</text>
<line x1="184.40" y1="264" x2="184.40" y2="268.9" stroke="#333" stroke-width="1.4"/>
<text x="184.40" y="277.85" text-anchor="middle" font-family="Liberation Sans" font-size="8.6" fill="#4a4a4a">3</text>
<line x1="224.60" y1="264" x2="224.60" y2="268.9" stroke="#333" stroke-width="1.4"/>
<text x="224.60" y="277.85" text-anchor="middle" font-family="Liberation Sans" font-size="8.6" fill="#4a4a4a">4</text>
<line x1="262.60" y1="264" x2="262.60" y2="268.9" stroke="#333" stroke-width="1.4"/>
<text x="262.60" y="277.85" text-anchor="middle" font-family="Liberation Sans" font-size="8.6" fill="#4a4a4a">5</text>
<line x1="298.50" y1="264" x2="298.50" y2="268.9" stroke="#333" stroke-width="1.4"/>
<text x="298.50" y="277.85" text-anchor="middle" font-family="Liberation Sans" font-size="8.6" fill="#4a4a4a">6</text>
<line x1="332.00" y1="264" x2="332.00" y2="268.9" stroke="#333" stroke-width="1.4"/>
<text x="332.00" y="277.85" text-anchor="middle" font-family="Liberation Sans" font-size="8.6" fill="#4a4a4a">7</text>
<line x1="362.90" y1="264" x2="362.90" y2="268.9" stroke="#333" stroke-width="1.4"/>
<text x="362.90" y="277.85" text-anchor="middle" font-family="Liberation Sans" font-size="8.6" fill="#4a4a4a">8</text>
<line x1="393.70" y1="264" x2="393.70" y2="268.9" stroke="#333" stroke-width="1.4"/>
<text x="393.70" y="277.85" text-anchor="middle" font-family="Liberation Sans" font-size="8.6" fill="#4a4a4a">9</text>
<line x1="421.80" y1="264" x2="421.80" y2="268.9" stroke="#333" stroke-width="1.4"/>
<text x="421.80" y="277.85" text-anchor="middle" font-family="Liberation Sans" font-size="8.6" fill="#4a4a4a">10</text>
<line x1="449.90" y1="264" x2="449.90" y2="268.9" stroke="#333" stroke-width="1.4"/>
<text x="449.90" y="277.85" text-anchor="middle" font-family="Liberation Sans" font-size="8.6" fill="#4a4a4a">11</text>
<line x1="477.70" y1="264" x2="477.70" y2="268.9" stroke="#333" stroke-width="1.4"/>
<text x="477.70" y="277.85" text-anchor="middle" font-family="Liberation Sans" font-size="8.6" fill="#4a4a4a">12</text>
<line x1="505.30" y1="264" x2="505.30" y2="268.9" stroke="#333" stroke-width="1.4"/>
<text x="505.30" y="277.85" text-anchor="middle" font-family="Liberation Sans" font-size="8.6" fill="#4a4a4a">13</text>
<line x1="528.20" y1="264" x2="528.20" y2="268.9" stroke="#333" stroke-width="1.4"/>
<text x="528.20" y="277.85" text-anchor="middle" font-family="Liberation Sans" font-size="8.6" fill="#4a4a4a">14</text>
<line x1="550.10" y1="264" x2="550.10" y2="268.9" stroke="#333" stroke-width="1.4"/>
<text x="550.10" y="277.85" text-anchor="middle" font-family="Liberation Sans" font-size="8.6" fill="#4a4a4a">15</text>
<line x1="567.60" y1="264" x2="567.60" y2="268.9" stroke="#333" stroke-width="1.4"/>
<text x="567.60" y="277.85" text-anchor="middle" font-family="Liberation Sans" font-size="8.6" fill="#4a4a4a">16</text>
<line x1="584.70" y1="264" x2="584.70" y2="268.9" stroke="#333" stroke-width="1.4"/>
<text x="584.70" y="277.85" text-anchor="middle" font-family="Liberation Sans" font-size="8.6" fill="#4a4a4a">17</text>
<line x1="601.60" y1="264" x2="601.60" y2="268.9" stroke="#333" stroke-width="1.4"/>
<text x="601.60" y="277.85" text-anchor="middle" font-family="Liberation Sans" font-size="8.6" fill="#4a4a4a">18</text>
<line x1="615.00" y1="264" x2="615.00" y2="268.9" stroke="#333" stroke-width="1.4"/>
<text x="615.00" y="277.85" text-anchor="middle" font-family="Liberation Sans" font-size="8.6" fill="#4a4a4a">19</text>
<line x1="627.90" y1="264" x2="627.90" y2="268.9" stroke="#333" stroke-width="1.4"/>
<text x="627.90" y="277.85" text-anchor="middle" font-family="Liberation Sans" font-size="8.6" fill="#4a4a4a">20</text>
<line x1="640.60" y1="264" x2="640.60" y2="268.9" stroke="#333" stroke-width="1.4"/>
<text x="640.60" y="277.85" text-anchor="middle" font-family="Liberation Sans" font-size="8.6" fill="#4a4a4a">21</text>
<line x1="651.50" y1="264" x2="651.50" y2="268.9" stroke="#333" stroke-width="1.4"/>
<text x="651.50" y="277.85" text-anchor="middle" font-family="Liberation Sans" font-size="8.6" fill="#4a4a4a">22</text>
<text x="359" y="287.2" text-anchor="middle" font-family="Liberation Sans" font-size="8.85" fill="#333">Chromosome</text>
<text transform="translate(6.9,149.6) rotate(-90)" font-family="Liberation Sans" font-size="9.1" fill="#333">-log<tspan font-size="5.9" dy="2.0">10</tspan><tspan dy="-2.0">(P)</tspan></text>
</svg>
<div class="ln" style="top:294px;height:2px;background:#555"></div>
<div class="r" style="top:330.00px;height:17.17px"></div>
<div class="r" style="top:364.34px;height:17.17px"></div>
<div class="r" style="top:398.68px;height:17.17px"></div>
<div class="r" style="top:433.02px;height:16.28px"></div>
<div class="ln" style="top:329px;height:1px;background:#222"></div>
<div class="ln" style="left:14px;width:667px;top:449.9px;height:1.5px;background:#555"></div><div class="ln" style="left:14px;width:667px;top:451.4px;height:0.6px;background:#888"></div>
<div class="t h" style="left:28.3px;top:307.4px">No</div>
<div class="t h" style="left:60.2px;top:307.4px">Chr</div>
<div class="t h" style="left:109.8px;top:307.4px">Pos</div>
<div class="t h" style="left:175.0px;top:307.4px">rsID</div>
<div class="t h" style="left:228.2px;top:307.4px">EA</div>
<div class="t h" style="left:265.0px;top:307.4px">NEA</div>
<div class="t h" style="left:304.5px;top:307.4px">EAF</div>
<div class="t h" style="left:347.3px;top:307.4px">Beta</div>
<div class="t h" style="left:389.9px;top:307.4px">Se</div>
<div class="t h" style="left:447.7px;top:307.4px">P</div>
<div class="t h" style="left:511.4px;top:299.2px">gnomAD</div>
<div class="t h" style="left:511.4px;top:315.8px">(EAS)</div>
<div class="t h" style="left:565.7px;top:299.2px">gnomAD</div>
<div class="t h" style="left:565.7px;top:315.8px">(NFE)</div>
<div class="t h" style="left:637.2px;top:307.4px">Candidate gene</div>
<div class="t b" style="left:28.3px;top:333.50px">1</div>
<div class="t b" style="left:60.2px;top:333.50px">1</div>
<div class="t b" style="left:109.8px;top:333.50px">62997601</div>
<div class="t b" style="left:175.0px;top:333.50px">rs10458569</div>
<div class="t b" style="left:228.2px;top:333.50px">A</div>
<div class="t b" style="left:265.0px;top:333.50px">C</div>
<div class="t b" style="left:304.5px;top:333.50px">0.15</div>
<div class="t b" style="left:347.3px;top:333.50px">-0.09</div>
<div class="t b" style="left:389.9px;top:333.50px">0.02</div>
<div class="t b" style="left:447.7px;top:333.50px">2.45&times;10<sup>-8</sup></div>
<div class="t b" style="left:511.4px;top:333.50px">0.15</div>
<div class="t b" style="left:565.7px;top:333.50px">0.04</div>
<div class="t b i" style="left:637.2px;top:333.50px">DOCK7</div>
<div class="t b" style="left:28.3px;top:350.74px">2</div>
<div class="t b" style="left:60.2px;top:350.74px">2</div>
<div class="t b" style="left:109.8px;top:350.74px">27734972</div>
<div class="t b" style="left:175.0px;top:350.74px">rs6547692</div>
<div class="t b" style="left:228.2px;top:350.74px">A</div>
<div class="t b" style="left:265.0px;top:350.74px">G</div>
<div class="t b" style="left:304.5px;top:350.74px">0.46</div>
<div class="t b" style="left:347.3px;top:350.74px">-0.11</div>
<div class="t b" style="left:389.9px;top:350.74px">0.01</div>
<div class="t b" style="left:447.7px;top:350.74px">1.43&times;10<sup>-22</sup></div>
<div class="t b" style="left:511.4px;top:350.74px">0.52</div>
<div class="t b" style="left:565.7px;top:350.74px">0.54</div>
<div class="t b i" style="left:637.2px;top:350.74px">GCKR</div>
<div class="t b" style="left:28.3px;top:367.98px">3</div>
<div class="t b" style="left:60.2px;top:367.98px">7</div>
<div class="t b" style="left:109.8px;top:367.98px">72978112</div>
<div class="t b" style="left:175.0px;top:367.98px">rs12539351</div>
<div class="t b" style="left:228.2px;top:367.98px">G</div>
<div class="t b" style="left:265.0px;top:367.98px">A</div>
<div class="t b" style="left:304.5px;top:367.98px">0.11</div>
<div class="t b" style="left:347.3px;top:367.98px">-0.13</div>
<div class="t b" style="left:389.9px;top:367.98px">0.02</div>
<div class="t b" style="left:447.7px;top:367.98px">1.05&times;10<sup>-11</sup></div>
<div class="t b" style="left:511.4px;top:367.98px">0.10</div>
<div class="t b" style="left:565.7px;top:367.98px">0.25</div>
<div class="t b i" style="left:637.2px;top:367.98px">TBL2</div>
<div class="t b" style="left:28.3px;top:385.22px">4</div>
<div class="t b" style="left:60.2px;top:385.22px">8</div>
<div class="t b" style="left:109.8px;top:385.22px">19860460</div>
<div class="t b" style="left:175.0px;top:385.22px">rs79236614</div>
<div class="t b" style="left:228.2px;top:385.22px">G</div>
<div class="t b" style="left:265.0px;top:385.22px">C</div>
<div class="t b" style="left:304.5px;top:385.22px">0.09</div>
<div class="t b" style="left:347.3px;top:385.22px">-0.19</div>
<div class="t b" style="left:389.9px;top:385.22px">0.02</div>
<div class="t b" style="left:447.7px;top:385.22px">3.05&times;10<sup>-20</sup></div>
<div class="t b" style="left:511.4px;top:385.22px">0.12</div>
<div class="t b" style="left:565.7px;top:385.22px">0.13</div>
<div class="t b i" style="left:637.2px;top:385.22px">LPL</div>
<div class="t b" style="left:28.3px;top:402.46px">5</div>
<div class="t b" style="left:60.2px;top:402.46px">8</div>
<div class="t b" style="left:109.8px;top:402.46px">126477978</div>
<div class="t b" style="left:175.0px;top:402.46px">rs2001945</div>
<div class="t b" style="left:228.2px;top:402.46px">G</div>
<div class="t b" style="left:265.0px;top:402.46px">C</div>
<div class="t b" style="left:304.5px;top:402.46px">0.42</div>
<div class="t b" style="left:347.3px;top:402.46px">0.08</div>
<div class="t b" style="left:389.9px;top:402.46px">0.01</div>
<div class="t b" style="left:447.7px;top:402.46px">5.08&times;10<sup>-11</sup></div>
<div class="t b" style="left:511.4px;top:402.46px">0.42</div>
<div class="t b" style="left:565.7px;top:402.46px">0.48</div>
<div class="t b i" style="left:637.2px;top:402.46px">TRIB1</div>
<div class="t b" style="left:28.3px;top:419.70px">6</div>
<div class="t b" style="left:60.2px;top:419.70px">11</div>
<div class="t b" style="left:109.8px;top:419.70px">116663707</div>
<div class="t b" style="left:175.0px;top:419.70px">rs662799</div>
<div class="t b" style="left:228.2px;top:419.70px">G</div>
<div class="t b" style="left:265.0px;top:419.70px">A</div>
<div class="t b" style="left:304.5px;top:419.70px">0.29</div>
<div class="t b" style="left:347.3px;top:419.70px">0.31</div>
<div class="t b" style="left:389.9px;top:419.70px">0.01</div>
<div class="t b" style="left:447.7px;top:419.70px">2.07&times;10<sup>-139</sup></div>
<div class="t b" style="left:511.4px;top:419.70px">0.29</div>
<div class="t b" style="left:565.7px;top:419.70px">0.08</div>
<div class="t b i" style="left:637.2px;top:419.70px">APOA5</div>
<div class="t b" style="left:28.3px;top:436.94px">7</div>
<div class="t b" style="left:60.2px;top:436.94px">19</div>
<div class="t b" style="left:109.8px;top:436.94px">45416178</div>
<div class="t b" style="left:175.0px;top:436.94px">rs483082</div>
<div class="t b" style="left:228.2px;top:436.94px">T</div>
<div class="t b" style="left:265.0px;top:436.94px">G</div>
<div class="t b" style="left:304.5px;top:436.94px">0.19</div>
<div class="t b" style="left:347.3px;top:436.94px">0.15</div>
<div class="t b" style="left:389.9px;top:436.94px">0.01</div>
<div class="t b" style="left:447.7px;top:436.94px">2.15&times;10<sup>-25</sup></div>
<div class="t b" style="left:511.4px;top:436.94px">0.20</div>
<div class="t b" style="left:565.7px;top:436.94px">0.22</div>
<div class="t b i" style="left:637.2px;top:436.94px">APOC1</div>
</div></body></html>
